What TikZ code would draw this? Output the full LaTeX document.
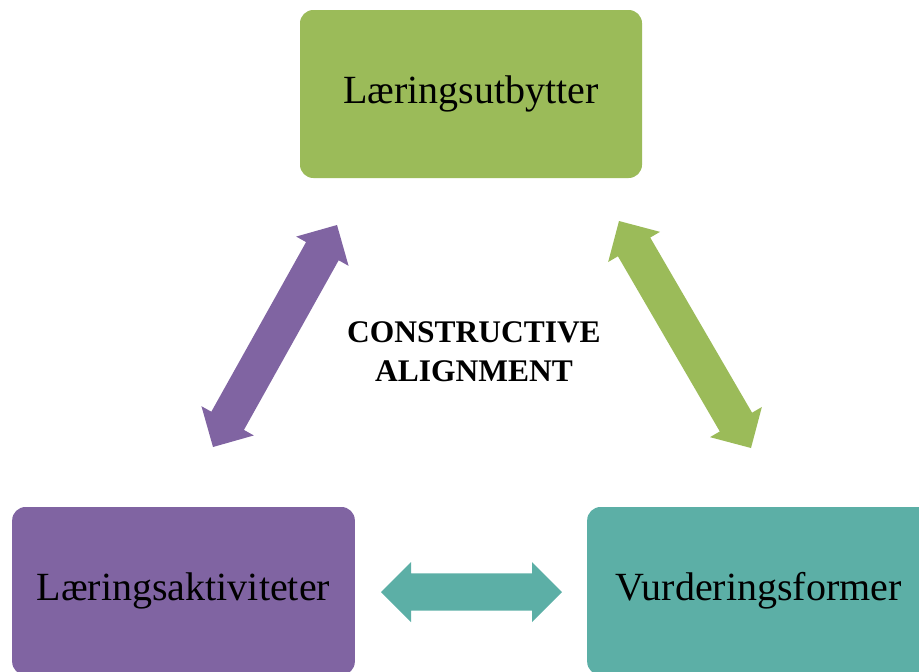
\documentclass[tikz,border=0pt]{standalone}
\usepackage{fontspec}
\setmainfont{Liberation Serif}
\usetikzlibrary{calc}
\definecolor{cgreen}{RGB}{155,187,89}
\definecolor{cpurple}{RGB}{128,100,162}
\definecolor{cteal}{RGB}{92,175,166}
\def\hl{22.5pt}
\def\hw{22.5pt}
\def\sw{14pt}
\newcommand{\dblblock}[3]{%
  \fill[#1] (#2)
    -- ($(#2)!\hl!(#3)!\hw!90:(#3)$)
    -- ($(#2)!\hl!(#3)!\sw!90:(#3)$)
    -- ($(#3)!\hl!(#2)!\sw!-90:(#2)$)
    -- ($(#3)!\hl!(#2)!\hw!-90:(#2)$)
    -- (#3)
    -- ($(#3)!\hl!(#2)!\hw!90:(#2)$)
    -- ($(#3)!\hl!(#2)!\sw!90:(#2)$)
    -- ($(#2)!\hl!(#3)!\sw!-90:(#3)$)
    -- ($(#2)!\hl!(#3)!\hw!-90:(#3)$)
    -- cycle;}
\tikzset{
  box/.style={rounded corners=10pt, minimum width=257pt, minimum height=126pt,
    inner sep=0pt, font=\fontsize{30pt}{36pt}\selectfont, text=black},
}
\begin{document}
\begin{tikzpicture}[x=0.75pt,y=-0.75pt]
\useasboundingbox (0,0) rectangle (919,671);
\node[box, fill=cgreen, minimum width=256.5pt] (top) at (471,94) {Læringsutbytter};
\node[box, fill=cpurple] (left) at (183.5,591) {Læringsaktiviteter};
\node[box, fill=cteal] (right) at (758.5,591) {Vurderingsformer};
\node[align=center, inner sep=0pt, font=\fontsize{23.6pt}{29.25pt}\selectfont\bfseries] (ca) at (474,352) {CONSTRUCTIVE\\ALIGNMENT};
\coordinate (pa) at (213,447);
\coordinate (pb) at (337,225);
\coordinate (ga) at (619,221);
\coordinate (gb) at (751,448);
\coordinate (ta) at (381,592);
\coordinate (tb) at (562,592);
\dblblock{cpurple}{pa}{pb}
\dblblock{cgreen}{ga}{gb}
\dblblock{cteal}{ta}{tb}
\end{tikzpicture}
\end{document}
